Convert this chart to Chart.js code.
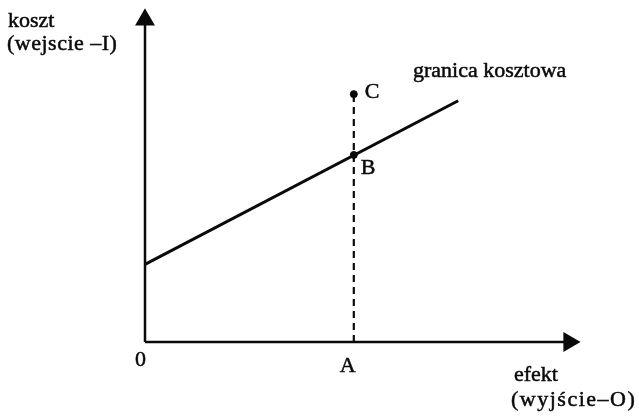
<!DOCTYPE html>
<html>
<head>
    <meta charset="utf-8">
    <title>granica kosztowa</title>
    <script src="https://cdn.jsdelivr.net/npm/chart.js"></script>
    <style>
        html, body { margin: 0; padding: 0; background: #fff; }
        #wrap { width: 639px; height: 416px; }
    </style>
</head>
<body>
    <div id="wrap"><canvas id="myChart" width="639" height="416"></canvas></div>

    <script>
        // values (arbitrary units)
        const costLineX = [0, 7.2];
        const costLineY = [2.35, 7.3];
        const pointA = 4.8;
        const pointBY = 5.66;
        const pointCY = 7.5;
        const xAxisEnd = 9.75;
        const yAxisEnd = 9.75;

        const xTitle = ['efekt', '(wyjście–O)'];
        const yTitle = ['koszt', '(wejscie –I)'];
        const lineTitle = 'granica kosztowa';

        const ink = '#0a0a0a';
        const serif = '"Liberation Serif", "DejaVu Serif", serif';

        // slightly heavier text, the scan is a bit bold
        function say(ctx, text, x, y) {
            ctx.fillText(text, x, y);
            ctx.strokeText(text, x, y);
        }

        const labelsPlugin = {
            id: 'labels',
            afterDatasetsDraw(chart) {
                const ctx = chart.ctx;
                const xs = chart.scales.x, ys = chart.scales.y;
                const px = v => xs.getPixelForValue(v);
                const py = v => ys.getPixelForValue(v);
                ctx.save();
                ctx.fillStyle = ink;
                ctx.strokeStyle = ink;
                ctx.lineWidth = 0.5;
                ctx.font = '22px ' + serif;
                ctx.textBaseline = 'alphabetic';
                ctx.textAlign = 'left';
                say(ctx, yTitle[0], 8, 27);
                ctx.letterSpacing = '0.5px';
                say(ctx, yTitle[1], 7, 50);
                ctx.letterSpacing = '0px';
                say(ctx, lineTitle, 413, 77);
                say(ctx, 'C', px(pointA) + 11, py(pointCY) + 4);
                say(ctx, 'B', px(pointA) + 7, py(pointBY) + 19);
                say(ctx, '0', px(0) - 10, py(0) + 24);
                say(ctx, 'A', px(pointA) - 14, py(0) + 30);
                say(ctx, xTitle[0], 514, 381);
                ctx.letterSpacing = '1.5px';
                say(ctx, xTitle[1], 511, 406);
                ctx.restore();
            }
        };

        const ctx = document.getElementById('myChart').getContext('2d');
        new Chart(ctx, {
            type: 'scatter',
            data: {
                datasets: [
                    {
                        // x axis
                        data: [{x: 0, y: 0}, {x: xAxisEnd, y: 0}],
                        showLine: true,
                        borderColor: ink,
                        borderWidth: 2.5,
                        pointRadius: [0, 9],
                        pointStyle: 'triangle',
                        rotation: 90,
                        pointBackgroundColor: ink,
                        pointBorderColor: ink,
                        clip: false
                    },
                    {
                        // y axis
                        data: [{x: 0, y: 0}, {x: 0, y: yAxisEnd}],
                        showLine: true,
                        borderColor: ink,
                        borderWidth: 2.5,
                        pointRadius: [0, 9],
                        pointStyle: 'triangle',
                        rotation: 0,
                        pointBackgroundColor: ink,
                        pointBorderColor: ink,
                        clip: false
                    },
                    {
                        // cost frontier
                        data: costLineX.map((x, i) => ({x: x, y: costLineY[i]})),
                        showLine: true,
                        borderColor: ink,
                        borderWidth: 3,
                        pointRadius: 0,
                        clip: false
                    },
                    {
                        // dashed line A -> C
                        data: [{x: pointA, y: 0}, {x: pointA, y: pointCY}],
                        showLine: true,
                        borderColor: ink,
                        borderWidth: 2.2,
                        borderDash: [7, 5],
                        pointRadius: 0,
                        clip: false
                    },
                    {
                        // points B and C
                        data: [{x: pointA, y: pointBY}, {x: pointA, y: pointCY}],
                        showLine: false,
                        pointRadius: 3.5,
                        pointBackgroundColor: ink,
                        pointBorderColor: ink,
                        clip: false
                    }
                ]
            },
            options: {
                responsive: false,
                animation: false,
                layout: { padding: { left: 145, right: 59, top: 5, bottom: 74 } },
                plugins: {
                    legend: { display: false },
                    tooltip: { enabled: false }
                },
                scales: {
                    x: { type: 'linear', min: 0, max: 10, display: false },
                    y: { type: 'linear', min: 0, max: 10, display: false }
                }
            },
            plugins: [labelsPlugin]
        });
    </script>
</body>
</html>
